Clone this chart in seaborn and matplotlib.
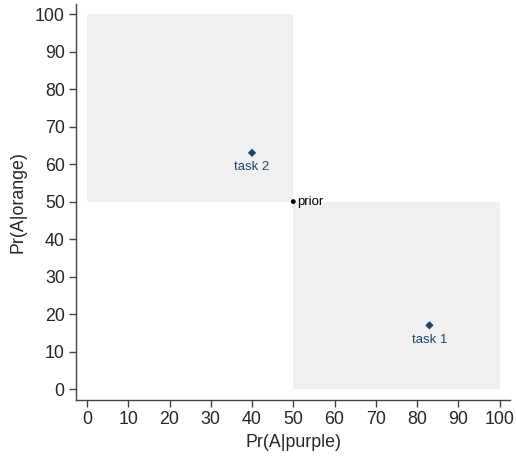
import pandas as pd
import matplotlib.pyplot as plt
import matplotlib.patches as mpatches
import seaborn as sns

# data
task_names = ['task 1', 'task 2']
pr_purple = [83, 40]
pr_orange = [17, 63]
prior_x = [50]
prior_y = [50]
# shaded regions: (x0, y0, x1, y1)
regions = [(0, 50, 50, 100), (50, 0, 100, 50)]
ticks = list(range(0, 101, 10))

df = pd.DataFrame({'purple': pr_purple, 'orange': pr_orange, 'task': task_names})

sns.set_style('white')
plt.rcParams['font.family'] = ['Liberation Sans', 'DejaVu Sans']

fig = plt.figure(figsize=(5.16, 4.59), dpi=100)
ax = fig.add_axes([0.147, 0.1285, 0.842, 0.8625])

for x0, y0, x1, y1 in regions:
    ax.add_patch(mpatches.Rectangle((x0, y0), x1 - x0, y1 - y0,
                                    facecolor='#f0f0f0', edgecolor='none', zorder=0))

sns.scatterplot(data=df, x='purple', y='orange', marker='D', color='#1a476f',
                s=18, edgecolor='none', ax=ax, zorder=3)
for _, r in df.iterrows():
    ax.annotate(r['task'], (r['purple'], r['orange']), xytext=(0, -6),
                textcoords='offset points', ha='center', va='top',
                color='#1a476f', fontsize=9.5)

sns.scatterplot(x=prior_x, y=prior_y, color='black', s=12, edgecolor='none', ax=ax, zorder=3)
ax.annotate('prior', (prior_x[0], prior_y[0]), xytext=(3, 0), textcoords='offset points',
            ha='left', va='center', color='black', fontsize=9.5)

ax.set_xlim(-2.7, 102.6)
ax.set_ylim(-2.93, 102.67)
ax.set_xticks(ticks)
ax.set_yticks(ticks)
ax.tick_params(axis='both', direction='out', length=5, width=1, color='#444444',
               labelsize=12.8, pad=3, bottom=True, left=True)
for side in ['top', 'right']:
    ax.spines[side].set_visible(False)
for side in ['left', 'bottom']:
    ax.spines[side].set_color('#444444')
    ax.spines[side].set_linewidth(1)

ax.set_xlabel('Pr(A|purple)', fontsize=12.8, labelpad=4)
ax.set_ylabel('Pr(A|orange)', fontsize=12.8, labelpad=6)

plt.savefig('out.png', dpi=100)
